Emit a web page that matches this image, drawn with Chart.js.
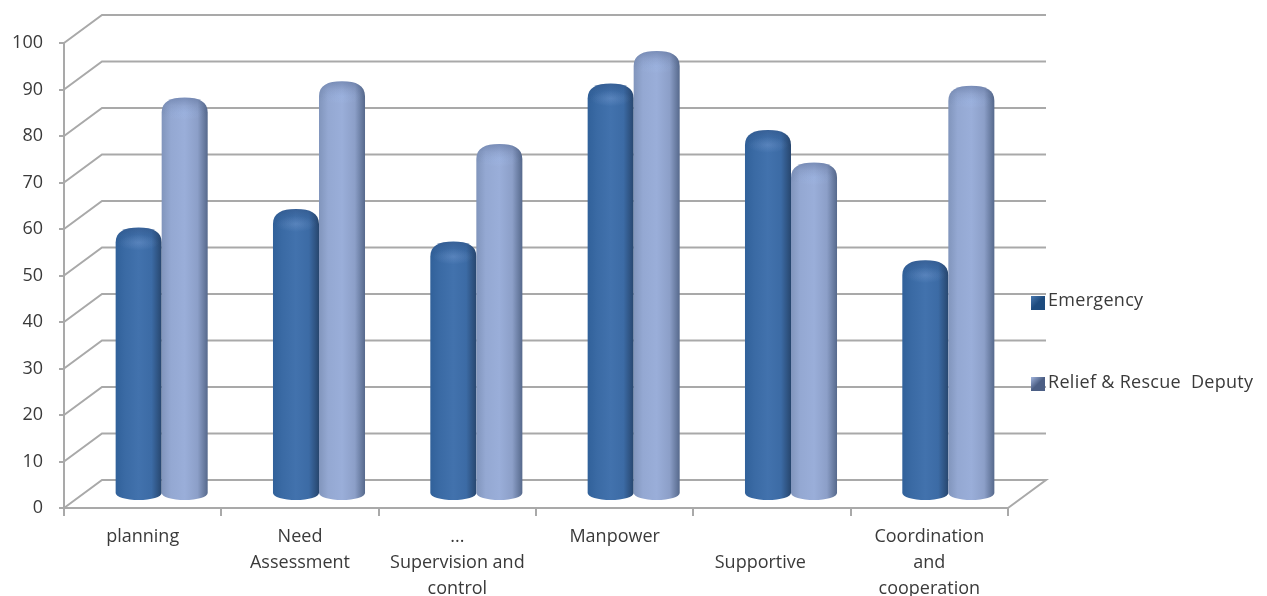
<!DOCTYPE html>
<html>
<head>
<meta charset="utf-8">
<title>Emergency and Relief & Rescue Deputy</title>
<script src="https://cdn.jsdelivr.net/npm/chart.js@4/dist/chart.umd.min.js"></script>
<style>
    body { margin: 0; background: #fff; }
    canvas { display: block; }
</style>
</head>
<body>
<canvas id="skillsChart" width="1267" height="596"></canvas>
<script>
// Chart data
const categories = [
    'planning',
    ['Need', 'Assessment'],
    ['...', 'Supervision and', 'control'],
    'Manpower',
    ['', 'Supportive     '],
    ['Coordination', 'and', 'cooperation']
];
const emergencyValues = [56, 60, 53, 87, 77, 49];
const reliefValues = [84, 87.5, 74, 94, 70, 86.5];
const seriesNames = ['Emergency', 'Relief & Rescue  Deputy'];
const tickStep = 10;

const labelFont = { family: '"Open Sans"', size: 18 };
const textColor = '#3a3a3a';
const lineColor = '#a9a9a9';

// The floor runs back this far from the front axis
const depthX = 38;
const depthY = 28;

// Shades across one cylinder, left to right
const emergencyShades = ['#31619a', '#3a6aa4', '#4272ad', '#3c6ba5', '#27466e'];
const reliefShades = ['#8195bc', '#94a8d2', '#9aaed9', '#8c9fc8', '#56698c'];

function hexShades(ctx, x, width, shades) {
    const g = ctx.createLinearGradient(x - width / 2, 0, x + width / 2, 0);
    g.addColorStop(0, shades[0]);
    g.addColorStop(0.2, shades[1]);
    g.addColorStop(0.5, shades[2]);
    g.addColorStop(0.78, shades[3]);
    g.addColorStop(1, shades[4]);
    return g;
}

// Bars are drawn as cylinders with a soft rounded top
Chart.BarElement.prototype.draw = function(ctx) {
    const { x, y, base, width } = this.getProps(['x', 'y', 'base', 'width']);
    const shades = this.options.backgroundColor === 'emergency' ? emergencyShades : reliefShades;
    const rx = width / 2;
    const ryBase = 7;
    const domeTop = y - 6;
    const domeSide = y + 9;

    ctx.save();
    ctx.beginPath();
    ctx.moveTo(x - rx, domeSide);
    ctx.lineTo(x - rx, base);
    ctx.ellipse(x, base, rx, ryBase, 0, Math.PI, 0, true);
    ctx.lineTo(x + rx, domeSide);
    ctx.bezierCurveTo(x + rx, domeTop + 4, x + rx * 0.62, domeTop, x, domeTop);
    ctx.bezierCurveTo(x - rx * 0.62, domeTop, x - rx, domeTop + 4, x - rx, domeSide);
    ctx.closePath();
    ctx.fillStyle = hexShades(ctx, x, width, shades);
    ctx.fill();
    ctx.clip();

    // Darker back rim of the top, fading into the body
    const rim = ctx.createLinearGradient(0, domeTop, 0, domeTop + 20);
    rim.addColorStop(0, 'rgba(30,50,90,0.26)');
    rim.addColorStop(0.4, 'rgba(30,50,90,0.08)');
    rim.addColorStop(1, 'rgba(30,50,90,0)');
    ctx.fillStyle = rim;
    ctx.fillRect(x - rx, domeTop, width, 20);

    // Lighter patch just below the rim
    ctx.save();
    ctx.translate(x, domeTop + 15);
    ctx.scale(1, 0.38);
    const glow = ctx.createRadialGradient(0, 0, 0, 0, 0, rx * 0.9);
    glow.addColorStop(0, 'rgba(170,200,250,0.22)');
    glow.addColorStop(1, 'rgba(170,200,250,0)');
    ctx.fillStyle = glow;
    ctx.fillRect(-rx, -rx, width, width);
    ctx.restore();

    ctx.restore();
};

const wallPlugin = {
    id: 'wall',
    // Side wall, back wall and floor lines
    beforeDatasetsDraw(chart) {
        const { ctx, chartArea, scales } = chart;
        const left = chartArea.left;
        const right = chartArea.right;
        ctx.save();
        ctx.strokeStyle = lineColor;
        ctx.lineWidth = 2;
        scales.y.ticks.forEach(function(tick) {
            const py = scales.y.getPixelForValue(tick.value);
            ctx.beginPath();
            ctx.moveTo(left, py);
            ctx.lineTo(left + depthX, py - depthY);
            ctx.lineTo(right + depthX, py - depthY);
            if (tick.value === 0) {
                ctx.lineTo(right, py);
            }
            ctx.stroke();
        });
        ctx.restore();

        // Bars stand in the middle of the floor, later series in front
        ctx.save();
        ctx.translate(depthX / 2, -depthY / 2);
        chart.data.datasets.forEach(function(dataset, i) {
            chart.getDatasetMeta(i).data.forEach(function(bar) {
                bar.draw(ctx);
            });
        });
        ctx.restore();
        return false;
    },
    // Legend at the right of the plot
    afterDraw(chart) {
        const { ctx } = chart;
        const rows = [
            { y: 296, textY: 301, shades: ['#4a79b0', '#1d4b7e'] },
            { y: 377, textY: 383, shades: ['#a3b6de', '#4c5f85'] }
        ];
        ctx.save();
        ctx.font = labelFont.size + 'px ' + labelFont.family;
        ctx.letterSpacing = '0.3px';
        ctx.textBaseline = 'middle';
        rows.forEach(function(row, i) {
            const g = ctx.createLinearGradient(1031, row.y, 1045, row.y + 14);
            g.addColorStop(0, row.shades[0]);
            g.addColorStop(0.5, row.shades[1]);
            g.addColorStop(1, row.shades[1]);
            ctx.fillStyle = g;
            ctx.fillRect(1031, row.y, 14, 14);
            ctx.fillStyle = textColor;
            ctx.fillText(chart.data.datasets[i].label, 1048, row.textY);
        });
        ctx.restore();
    }
};

new Chart(document.getElementById('skillsChart'), {
    type: 'bar',
    data: {
        labels: categories,
        datasets: [
            { label: seriesNames[0], data: emergencyValues, backgroundColor: 'emergency' },
            { label: seriesNames[1], data: reliefValues, backgroundColor: 'relief' }
        ]
    },
    options: {
        responsive: false,
        animation: false,
        categoryPercentage: 0.585,
        barPercentage: 1,
        layout: { padding: { top: 43, right: 259, left: 0, bottom: 0 } },
        plugins: {
            legend: { display: false },
            tooltip: { enabled: false }
        },
        scales: {
            x: {
                afterFit(scale) { scale.height = 88; },
                grid: { offset: true, drawOnChartArea: false, color: lineColor, lineWidth: 2, tickLength: 8 },
                border: { color: lineColor, width: 2 },
                ticks: { font: { ...labelFont, lineHeight: 1.44 }, color: textColor, padding: 8, maxRotation: 0, autoSkip: false }
            },
            y: {
                min: 0,
                max: 100,
                afterFit(scale) { scale.width = 64; },
                grid: { drawOnChartArea: false, color: lineColor, lineWidth: 2, tickLength: 5 },
                border: { color: lineColor, width: 2 },
                ticks: { stepSize: tickStep, font: labelFont, color: textColor, padding: 16 }
            }
        }
    },
    plugins: [wallPlugin]
});
</script>
</body>
</html>
